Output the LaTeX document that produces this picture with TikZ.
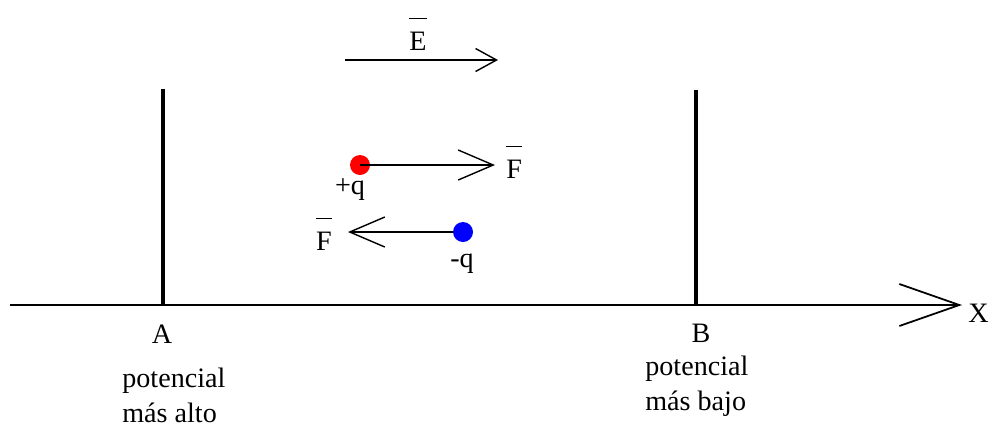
\documentclass[tikz,border=0pt]{standalone}
\usepackage{fontspec}
\setmainfont{Liberation Serif}
\usetikzlibrary{arrows.meta,positioning}
\newsavebox{\barbox}
\newcommand{\barred}[1]{\sbox\barbox{#1}\rlap{\rule[1.1em]{\wd\barbox}{0.7pt}}\usebox\barbox}

\begin{document}
\begin{tikzpicture}[
  x=0.02cm, y=-0.02cm,
  font=\fontsize{16}{19.5}\selectfont,
  t/.style={inner sep=0pt},
  plate/.style={line width=2.2pt},
  ax/.style={line width=1pt, -{Straight Barb[length=1.2cm, width=0.84cm]}},
  e/.style={line width=0.8pt, -{Straight Barb[length=0.42cm, width=0.46cm]}},
  f/.style={line width=0.8pt, -{Straight Barb[length=0.7cm, width=0.6cm]}},
  q/.style={circle, inner sep=0pt, minimum size=0.4cm}
]
\useasboundingbox (0,0) rectangle (990,427);
% x axis
\coordinate (o) at (10,305);
\coordinate (xe) at (962,305);
\draw[ax] (o) -- (xe);
\node[t, anchor=base west] (xl) at (968,322) {X};
% plates
\coordinate (pa) at (163,89);
\coordinate (pa0) at (163,305);
\coordinate (pb) at (696,90);
\coordinate (pb0) at (696,305);
\draw[plate] (pa) -- (pa0);
\draw[plate] (pb) -- (pb0);
\node[t, anchor=base] (la) at (162,343) {A};
\node[t, anchor=base] (lb) at (701,342) {B};
\node[t, anchor=north west, align=left] (va) at (122,368) {potencial\\más alto};
\node[t, anchor=north west, align=left] (vb) at (645,356) {potencial\\más bajo};
% field
\coordinate (e0) at (345,60);
\coordinate (e1) at (498,60);
\draw[e] (e0) -- (e1);
\node[t, anchor=base] (le) at (418,50) {\barred{E}};
% charges
\node[q, fill=red] (qp) at (360,165) {};
\coordinate (fp) at (495,165);
\draw[f] (qp.center) -- (fp);
\node[t, anchor=base west] (lfp) at (506,178) {\barred{F}};
\node[t, anchor=base] (lqp) at (350,194) {+q};
\coordinate (fn) at (348,232);
\draw[f] (463,232) -- (fn);
\node[q, fill=blue] (qn) at (463,232) {};
\node[t, anchor=base] (lfn) at (324,250) {\barred{F}};
\node[t, anchor=base] (lqn) at (462,267) {-q};
\end{tikzpicture}
\end{document}
